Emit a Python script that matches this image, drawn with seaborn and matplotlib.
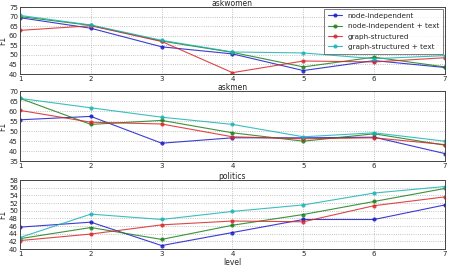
import matplotlib
matplotlib.use("Agg")
import matplotlib.pyplot as plt
import seaborn as sns
import pandas as pd

levels = [1, 2, 3, 4, 5, 6, 7]
series_names = ["node-independent", "node-independent + text",
                "graph-structured", "graph-structured + text"]

askwomen_ni = [69.4, 63.9, 54.2, 50.5, 41.8, 47.0, 43.4]
askwomen_nit = [70.0, 65.4, 57.2, 51.3, 43.7, 48.8, 43.7]
askwomen_gs = [62.8, 65.2, 57.0, 40.7, 46.8, 46.3, 48.5]
askwomen_gst = [70.6, 65.6, 57.6, 51.5, 51.0, 48.0, 49.6]

askmen_ni = [55.6, 57.3, 43.9, 46.6, 46.6, 46.9, 38.7]
askmen_nit = [66.3, 53.3, 55.3, 49.1, 44.9, 48.6, 42.9]
askmen_gs = [60.3, 54.4, 53.5, 47.1, 46.1, 46.6, 43.2]
askmen_gst = [66.3, 61.6, 56.9, 53.3, 47.1, 49.1, 44.9]

politics_ni = [45.7, 47.0, 40.9, 44.3, 47.7, 47.7, 51.5]
politics_nit = [42.7, 45.6, 42.5, 46.2, 49.0, 52.4, 55.8]
politics_gs = [42.2, 43.9, 46.3, 47.3, 47.1, 51.3, 53.6]
politics_gst = [43.0, 49.1, 47.7, 49.8, 51.5, 54.6, 56.3]

panels = [
    ("askwomen", [askwomen_ni, askwomen_nit, askwomen_gs, askwomen_gst], (40, 75), 5),
    ("askmen", [askmen_ni, askmen_nit, askmen_gs, askmen_gst], (35, 70), 5),
    ("politics", [politics_ni, politics_nit, politics_gs, politics_gst], (40, 58), 2),
]

colors = ["#1a1acc", "#1a801a", "#d92626", "#1ab3b3"]

sns.set_style("white")
plt.rcParams["font.family"] = ["DejaVu Sans"]

fig = plt.figure(figsize=(4.49, 2.70), dpi=100)
tops = [7, 91, 180]
bots = [74, 161, 249]
H = 270.0
W = 449.0
for i, (title, vals, ylim, step) in enumerate(panels):
    ax = fig.add_axes([20 / W, 1 - bots[i] / H, (445 - 20) / W, (bots[i] - tops[i]) / H])
    rows = []
    for name, v in zip(series_names, vals):
        for lv, y in zip(levels, v):
            rows.append({"level": lv, "F1": y, "series": name})
    df = pd.DataFrame(rows)
    sns.lineplot(data=df, x="level", y="F1", hue="series", palette=colors,
                 marker="o", markersize=3, markeredgewidth=0, linewidth=0.8,
                 ax=ax, legend=(i == 0))
    for ln in ax.lines:
        ln.set_alpha(0.85)
    ax.set_xlim(1, 7)
    ax.set_ylim(*ylim)
    ax.set_xticks(levels)
    ax.set_yticks(list(range(ylim[0], ylim[1] + 1, step)))
    ax.tick_params(labelsize=5, length=0, pad=1.5)
    ax.grid(True, linestyle=":", color="#b0b0b0", linewidth=0.6)
    for s in ax.spines.values():
        s.set_color("#444444")
        s.set_linewidth(0.7)
    ax.set_title(title, fontsize=5.5, pad=0.5)
    ax.set_ylabel("F1", fontsize=5.5, labelpad=1)
    if i == 2:
        ax.set_xlabel("level", fontsize=5.5, labelpad=1)
    else:
        ax.set_xlabel("")
    if i == 0:
        leg = ax.legend(loc="upper right", fontsize=5.2, frameon=True,
                        fancybox=False, borderpad=0.5, handlelength=2.0,
                        labelspacing=0.6, borderaxespad=0.3)
        leg.get_frame().set_edgecolor("#444444")
        leg.get_frame().set_linewidth(0.6)

fig.savefig("out.png", dpi=100)
